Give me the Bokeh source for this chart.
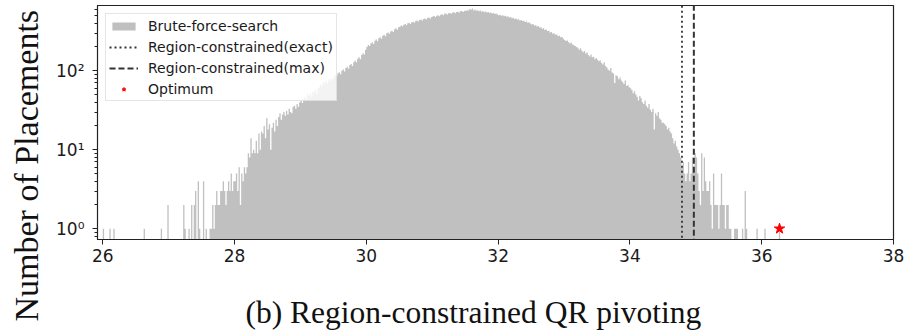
import math
from bokeh.plotting import figure
from bokeh.models import Range1d, Title, Legend, LegendItem, FixedTicker, CustomJSTickFormatter, LogTicker
from bokeh.embed import file_html
from bokeh.resources import INLINE

# ---- data ----
bin_start = 26.0
bin_width = 0.02
counts_26_0 = [1,0,0,0,0,1,0,0,1,0,0,0,0,0,0,0,0,0,0,0,0,0,0,0,0]
counts_26_5 = [0,0,0,0,0,0,1,0,0,0,0,0,0,0,0,0,0,0,0,1,0,0,0,0,2]
counts_27_0 = [0,0,0,0,0,0,0,0,0,0,0,2,1,0,0,1,0,2,0,2,3,0,4,1,0]
counts_27_5 = [0,4,0,1,0,0,1,1,2,1,2,3,2,2,3,3,4,3,2,3,4,3,5,3,4]
counts_28_0 = [4,5,3,6,2,5,4,6,5,6,9,8,14,9,10,9,13,9,16,10,17,16,20,14,25]
counts_28_5 = [18,21,10,19,22,17,24,20,26,29,24,28,30,27,31,28,33,30,29,35,36,33,38,35,40]
counts_29_0 = [42,39,44,47,43,50,48,52,47,55,53,58,51,60,62,68,64,72,70,75,69,78,74,80,77]
counts_29_5 = [83,88,85,92,96,90,100,104,98,108,112,106,118,122,115,128,135,128,142,148,140,158,166,160,185]
counts_30_0 = [200,212,205,222,230,218,240,248,236,258,265,254,278,286,274,298,306,294,315,322,310,335,345,330,355]
counts_30_5 = [360,375,365,382,390,378,398,405,392,412,418,405,425,432,420,438,445,432,452,458,446,465,472,460,478]
counts_31_0 = [485,492,480,498,505,490,512,518,505,525,530,516,535,540,528,545,550,536,556,560,545,565,570,555,575]
counts_31_5 = [570,585,578,605,590,612,580,598,575,585,565,578,560,570,552,562,545,555,538,548,530,540,522,532,515]
counts_32_0 = [505,512,498,505,490,498,482,488,472,478,462,470,452,460,445,450,432,440,425,430,415,420,405,410,395]
counts_32_5 = [385,390,375,378,362,368,352,355,340,345,328,332,318,322,305,310,295,298,285,288,275,278,265,268,255]
counts_33_0 = [245,238,242,230,222,228,215,210,205,200,195,185,192,180,172,178,165,170,158,152,160,148,150,140,145]
counts_33_5 = [138,132,135,125,120,128,115,110,104,100,108,95,92,70,88,85,78,82,75,72,68,75,64,66,62]
counts_34_0 = [60,57,52,55,50,47,42,48,45,40,38,42,36,34,38,32,30,33,18,29,27,30,25,24,22]
counts_34_5 = [22,21,20,18,19,17,16,14,12,13,11,10,9,8,6,7,5,4,5,7,4,5,8,6,9]
counts_35_0 = [8,5,3,2,9,3,8,4,3,3,4,2,1,5,2,2,2,1,2,5,2,2,1,2,2]
counts_35_5 = [1,1,0,0,1,1,1,0,0,0,1,0,3,1,0,0,0,0,0,0,0,1,0,0,0]
counts_36_0 = [0,0,1,0,0,0,0,0,0,0,0,0,0,1]

rc_exact = 34.79
rc_max = 34.97
optimum_x = 36.27
optimum_count = 1

x_ticks = [26, 28, 30, 32, 34, 36, 38]
y_ticks = [1, 10, 100]
y_tick_labels = ["10⁰", "10¹", "10²"]

counts = (counts_26_0 + counts_26_5 + counts_27_0 + counts_27_5 + counts_28_0 + counts_28_5 +
          counts_29_0 + counts_29_5 + counts_30_0 + counts_30_5 + counts_31_0 + counts_31_5 +
          counts_32_0 + counts_32_5 + counts_33_0 + counts_33_5 + counts_34_0 + counts_34_5 +
          counts_35_0 + counts_35_5 + counts_36_0)

floor = 0.1
edges = [bin_start + i * bin_width for i in range(len(counts) + 1)]
heights = [c if c > 0 else floor for c in counts] + [floor]
base = [floor] * len(edges)

# ---- figure ----
p = figure(width=907, height=330, output_backend="svg", toolbar_location=None,
           y_axis_type="log",
           x_range=Range1d(25.92, 38.0), y_range=Range1d(0.73, 670),
           min_border_left=96, min_border_right=14, min_border_top=5, min_border_bottom=91)
p.background_fill_color = "white"
p.border_fill_color = "white"
p.outline_line_color = "#222222"
p.outline_line_width = 1.2
p.grid.visible = False

hist = p.varea_step(x=edges, y1=base, y2=heights, step_mode="after",
                    fill_color="#c0c0c0")

ymin_line, ymax_line = 0.1, 10000
l_exact = p.line(x=[rc_exact, rc_exact], y=[ymin_line, ymax_line], line_color="#333333",
                 line_width=1.8, line_dash="2 3")
l_max = p.line(x=[rc_max, rc_max], y=[ymin_line, ymax_line], line_color="#333333",
               line_width=2, line_dash="6 3")
star = p.scatter(x=[optimum_x], y=[optimum_count], marker="star", size=11,
                 fill_color="red", line_color="red")

# axes
xa = p.xaxis[0]
xa.ticker = FixedTicker(ticks=x_ticks)
xa.major_label_text_font = "DejaVu Sans"
xa.major_label_text_font_size = "17px"
xa.major_label_text_color = "#1a1a1a"
xa.major_tick_out = 5
xa.major_tick_in = 0
xa.minor_tick_out = 0
xa.minor_tick_in = 0
xa.axis_line_color = "#222222"
xa.major_tick_line_color = "#222222"
xa.major_label_standoff = 4
xa.axis_label = " "
xa.axis_label_text_font_size = "10px"
xa.axis_label_standoff = 14

ya = p.yaxis[0]
ya.ticker = LogTicker(num_minor_ticks=10)
ya.formatter = CustomJSTickFormatter(
    args=dict(vals=y_ticks, labs=y_tick_labels),
    code="""
    for (let i = 0; i < vals.length; i++) { if (Math.abs(tick - vals[i]) < 1e-9 * vals[i]) return labs[i]; }
    return '';
    """)
ya.major_label_text_font = "DejaVu Sans"
ya.major_label_text_font_size = "17px"
ya.major_label_text_color = "#1a1a1a"
ya.major_tick_out = 5
ya.major_tick_in = 0
ya.minor_tick_out = 3
ya.minor_tick_in = 0
ya.axis_line_color = "#222222"
ya.major_tick_line_color = "#222222"
ya.minor_tick_line_color = "#222222"
ya.major_label_standoff = 8

# legend
legend = Legend(items=[
    LegendItem(label="Brute-force-search", renderers=[hist]),
    LegendItem(label="Region-constrained(exact)", renderers=[l_exact]),
    LegendItem(label="Region-constrained(max)", renderers=[l_max]),
    LegendItem(label="Optimum", renderers=[star]),
], location="top_left")
legend.margin = 8
legend.padding = 3
legend.spacing = 4
legend.glyph_width = 29
legend.glyph_height = 10
legend.label_height = 17
legend.label_standoff = 10
legend.label_text_font = "DejaVu Sans"
legend.label_text_font_size = "14px"
legend.label_text_color = "#1a1a1a"
legend.background_fill_color = "white"
legend.background_fill_alpha = 0.8
legend.border_line_color = "#cccccc"
legend.border_line_width = 1
p.add_layout(legend)

# y label and caption (serif, like the paper)
ylab = Title(text="Number of Placements", align="left", offset=-82, standoff=14,
             vertical_align="top",
             text_font="Liberation Serif", text_font_size="34px",
             text_font_style="normal", text_color="#111111")
p.add_layout(ylab, "left")
cap = Title(text="(b) Region-constrained QR pivoting", align="left", offset=148, standoff=0,
            text_font="Liberation Serif", text_font_size="31.5px",
            text_font_style="normal", text_color="#111111")
p.add_layout(cap, "below")

open("out.html", "w").write(file_html(p, INLINE))
